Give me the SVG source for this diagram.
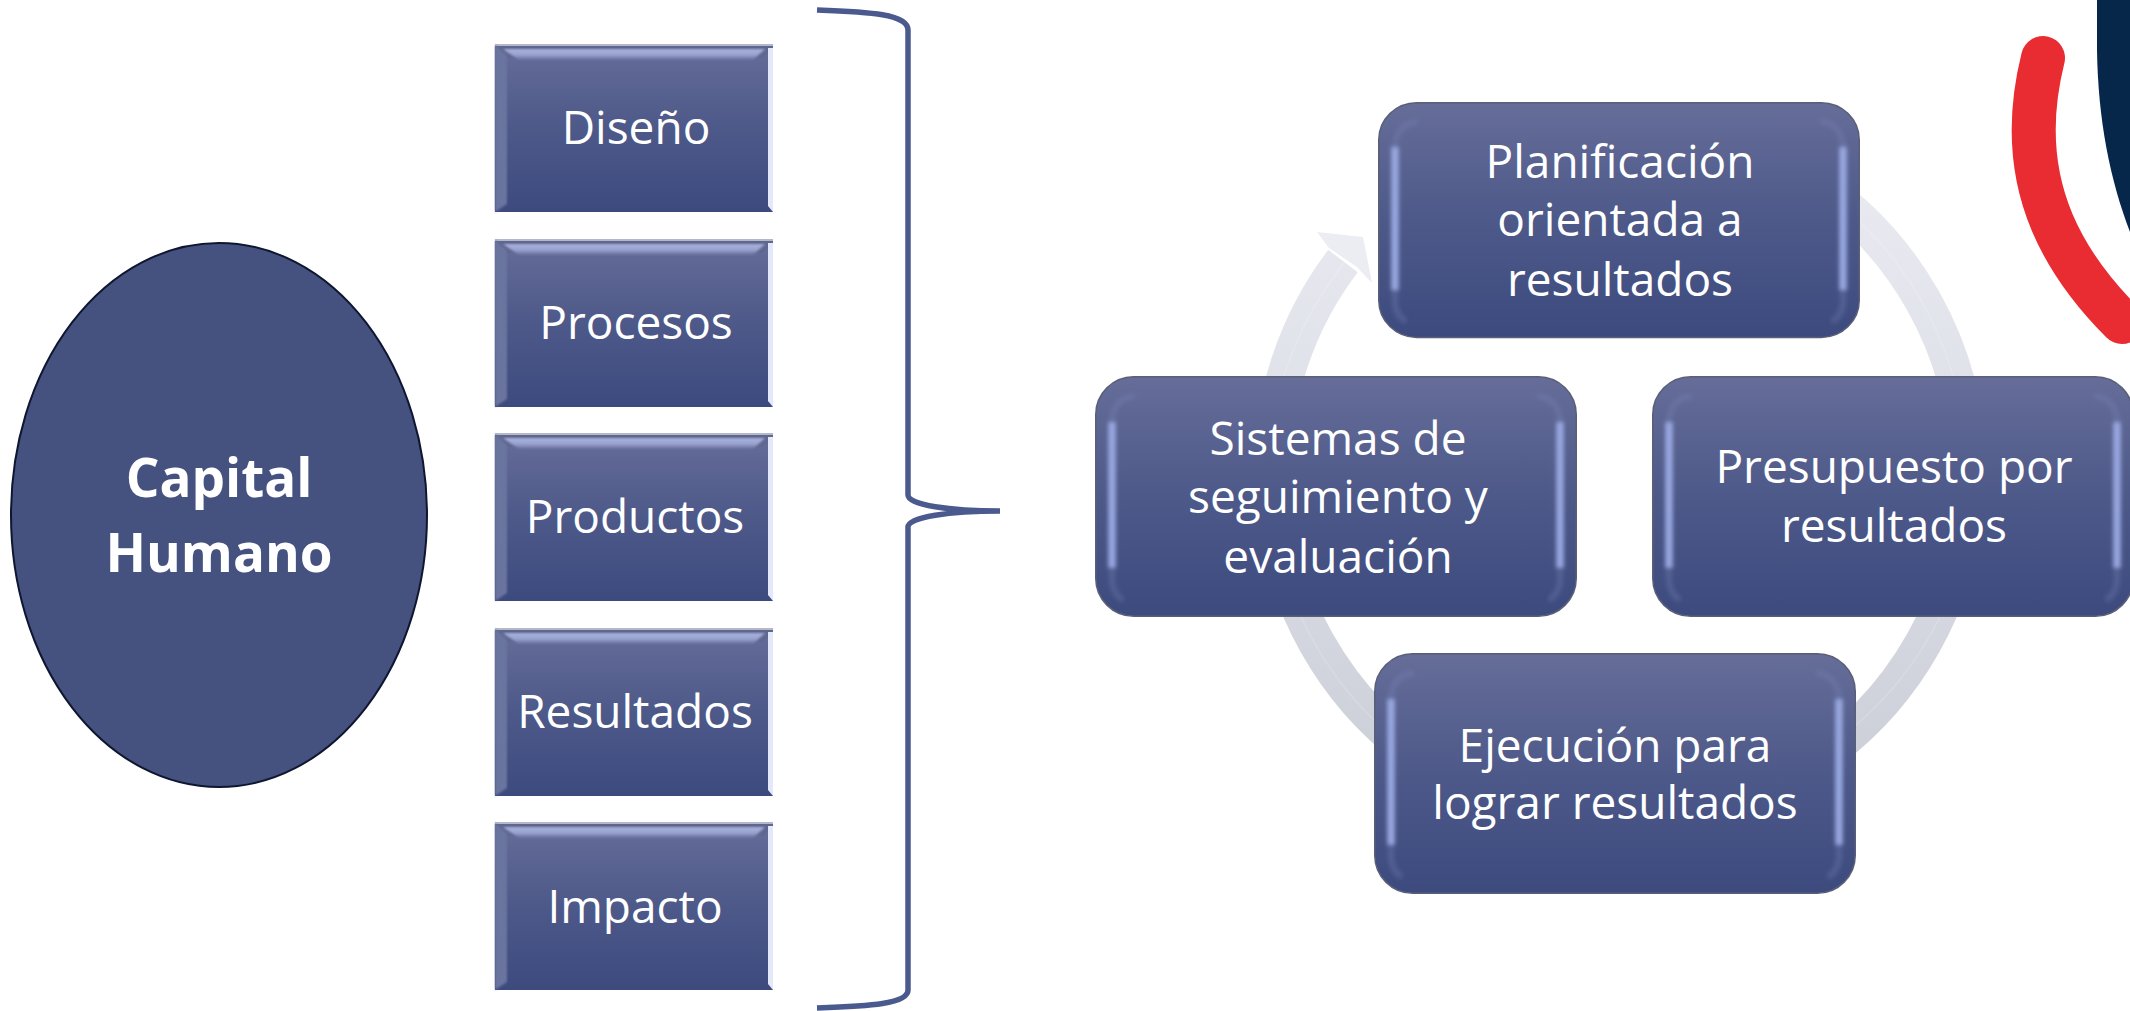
<svg xmlns="http://www.w3.org/2000/svg" width="2130" height="1011" viewBox="0 0 2130 1011">
<style>
text{font-family:"Open Sans","Noto Sans","Liberation Sans",sans-serif;fill:#fff;text-anchor:middle;font-size:46px}
.b{font-weight:700;font-size:53px}
.ring{fill:none;stroke:url(#ringGrad);stroke-width:37}
.seam{fill:none;stroke:#fff;stroke-opacity:.16;stroke-width:1.5}
</style>
<defs>
<linearGradient id="boxGrad" x1="0" y1="0" x2="0" y2="1">
<stop offset="0" stop-color="#666d99"/><stop offset=".5" stop-color="#4d5989"/><stop offset="1" stop-color="#3d4a7e"/>
</linearGradient>
<linearGradient id="bandGrad" x1="0" y1="0" x2="0" y2="1">
<stop offset="0" stop-color="#a9b3de"/><stop offset=".55" stop-color="#98a2cf"/><stop offset="1" stop-color="#646c97"/>
</linearGradient>
<linearGradient id="ringGrad" gradientUnits="userSpaceOnUse" x1="0" y1="120" x2="0" y2="820">
<stop offset="0" stop-color="#ecedf3"/><stop offset=".5" stop-color="#dcdee6"/><stop offset="1" stop-color="#c9cdd5"/>
</linearGradient>
<filter id="soft" x="-50%" y="-10%" width="200%" height="120%"><feGaussianBlur stdDeviation="2"/></filter>
<filter id="soft2" x="-5%" y="-5%" width="110%" height="110%"><feGaussianBlur stdDeviation=".8"/></filter>
<g id="sq">
<rect width="278" height="168" fill="url(#boxGrad)"/>
<path d="M0 0H278V2H0Z" fill="#b4b8cb"/>
<path d="M0 2H278L268 14H10Z" fill="#5f678f"/>
<path d="M8 5H270L258 16H24Z" fill="url(#bandGrad)" filter="url(#soft2)"/>
<path d="M0 1L12 12V160L0 168Z" fill="#6b749f" filter="url(#soft2)"/>
<path d="M273 4H278V168L273 162Z" fill="#e3e8fb"/>
</g>
<g id="rb">
<rect x=".75" y=".75" width="480.5" height="239.5" rx="38" fill="url(#boxGrad)" stroke="#5a5f78" stroke-width="1.5"/>
<path d="M40 20Q18 22 17 46V205Q18 218 28 224M442 20Q464 22 465 46V205Q464 218 454 224" fill="none" stroke="#7a88be" stroke-width="6" stroke-opacity=".3" filter="url(#soft)"/>
<path d="M17 46V192M465 46V192" fill="none" stroke="#9aa9e2" stroke-width="7" filter="url(#soft)"/>
</g>
</defs>

<g id="logo">
<path d="M2097 0V50C2098 120 2110 180 2130 232V0Z" fill="#06264a"/>
<path d="M2043 58C2030 110 2028 165 2052 222C2068 260 2095 295 2122 322" fill="none" stroke="#e92b32" stroke-width="44" stroke-linecap="round"/>
</g>

<g id="connectors">
<path class="ring" d="M1800 174A348 348 0 0 1 1968 472"/>
<path class="ring" d="M1968 472A348 348 0 0 1 1800 770"/>
<path class="ring" d="M1440 770A348 348 0 0 1 1272 472"/>
<path class="ring" d="M1272 472A348 348 0 0 1 1343 261"/>
<path d="M1317 232L1363 237L1372 283L1357 267L1329 248Z" fill="#ecedf3"/>
<path class="seam" d="M1284 376A348 348 0 0 1 1345 262"/>
<path class="seam" d="M1861 223A348 348 0 0 1 1953 376"/>
<path class="seam" d="M1940 617A348 348 0 0 1 1856 725"/>
<path class="seam" d="M1374 720A348 348 0 0 1 1301 617"/>
<path d="M817 10C870 12 908 14 908 30V495C908 505 950 511 1000 511C950 511 908 517 908 527V990C908 1004 870 1006 817 1008" fill="none" stroke="#4a5a8e" stroke-width="5.5"/>
</g>

<g id="capital-humano">
<ellipse cx="219" cy="515" rx="208" ry="272" fill="#45517f" stroke="#0f1730" stroke-width="2"/>
<text class="b" x="219" y="497">Capital</text>
<text class="b" x="219" y="572">Humano</text>
</g>

<g id="diseno"><use href="#sq" x="495" y="44"/><text x="636" y="144">Diseño</text></g>
<g id="procesos"><use href="#sq" x="495" y="239"/><text x="636" y="339">Procesos</text></g>
<g id="productos"><use href="#sq" x="495" y="433"/><text x="635" y="533">Productos</text></g>
<g id="resultados"><use href="#sq" x="495" y="628"/><text x="635" y="728">Resultados</text></g>
<g id="impacto"><use href="#sq" x="495" y="822"/><text x="635" y="923">Impacto</text></g>

<g id="planificacion"><use href="#rb" transform="translate(1378 102) scale(1 .98)"/>
<text x="1620" y="178">Planificación</text><text x="1620" y="236">orientada a</text><text x="1620" y="296">resultados</text></g>
<g id="presupuesto"><use href="#rb" transform="translate(1652 376)"/>
<text x="1894" y="483">Presupuesto por</text><text x="1894" y="542">resultados</text></g>
<g id="ejecucion"><use href="#rb" transform="translate(1374 653)"/>
<text x="1615" y="762">Ejecución para</text><text x="1615" y="819">lograr resultados</text></g>
<g id="sistemas"><use href="#rb" transform="translate(1095 376)"/>
<text x="1338" y="455">Sistemas de</text><text x="1338" y="513">seguimiento y</text><text x="1338" y="573">evaluación</text></g>
</svg>
